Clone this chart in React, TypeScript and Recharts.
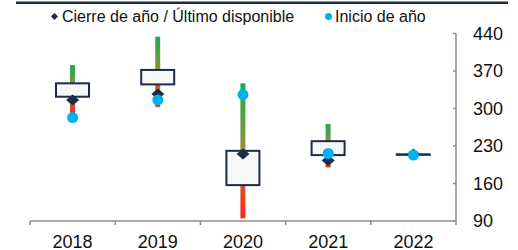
import React from "react";
import { ComposedChart, Bar, Line, XAxis, YAxis, Legend } from "recharts";

const categories = ["2018", "2019", "2020", "2021", "2022"];
const highs = [381, 434, 347, 271, 215];
const lows = [288, 303, 95, 190, 213];
const boxTops = [347, 372, 221, 239, 214.5];
const boxBottoms = [322, 345, 157, 213, 213.5];
const closes = [316, 327, 215, 203, 215];
const starts = [283, 316, 326, 216, 213];
const yTicks = [90, 160, 230, 300, 370, 440];

const NAVY = "#1c2a4d";
const BLUE = "#00b0f0";
const AXIS = "#8c8c8c";
const FONT = "'Liberation Sans', Arial, sans-serif";

const data = categories.map((c, i) => ({
  cat: c,
  pos: i + 0.5,
  whisker: [lows[i], highs[i]],
  box: [boxBottoms[i], boxTops[i]],
  close: closes[i],
  start: starts[i],
}));

const xTicks = Array.from({ length: categories.length * 2 + 1 }, (_, k) => k / 2);

const XTick = (props: any) => {
  const { x, y, payload } = props;
  const v = payload.value;
  if (Number.isInteger(v)) {
    return <line x1={x} x2={x} y1={y} y2={y + 4} stroke={AXIS} strokeWidth={1.5} />;
  }
  const label = categories[Math.floor(v)];
  return (
    <text x={x} y={y} dy={26.5} textAnchor="middle" fontSize={18} fill="#111" fontFamily={FONT}>
      {label}
    </text>
  );
};

const YTick = (props: any) => {
  const { x, y, payload } = props;
  return (
    <g>
      <line x1={x - 3} x2={x} y1={y} y2={y} stroke={AXIS} strokeWidth={1.5} />
      <text x={x + 17} y={y} dy="0.36em" textAnchor="start" fontSize={18} fill="#111" fontFamily={FONT}>
        {payload.value}
      </text>
    </g>
  );
};

const WhiskerShape = (props: any) => {
  const { x, y, width, height } = props;
  if (height == null) return null;
  return <rect x={x} y={y} width={width} height={Math.max(height, 0)} fill="url(#whiskerGrad)" />;
};

const BoxShape = (props: any) => {
  const { x, y, width, height } = props;
  return (
    <rect
      x={x + 1}
      y={y}
      width={width - 2}
      height={Math.max(height, 0.5)}
      fill="#f7f7f7"
      stroke={NAVY}
      strokeWidth={2}
    />
  );
};

const DiamondDot = (props: any) => {
  const { cx, cy, index } = props;
  return (
    <polygon
      key={`d-${index}`}
      points={`${cx},${cy - 5.5} ${cx + 6.5},${cy} ${cx},${cy + 5.5} ${cx - 6.5},${cy}`}
      fill={NAVY}
    />
  );
};

const CircleDot = (props: any) => {
  const { cx, cy, index } = props;
  return <circle key={`c-${index}`} cx={cx} cy={cy} r={5.5} fill={BLUE} />;
};

const LegendContent = () => (
  <svg width={518} height={30} style={{ display: "block" }}>
    <line x1={16} x2={508} y1={2.75} y2={2.75} stroke={NAVY} strokeWidth={2.5} />
    <polygon points="54.5,13 58,16.5 54.5,20 51,16.5" fill={NAVY} />
    <text x={62} y={22} fontSize={16} fill="#111" fontFamily={FONT}>
      Cierre de año / Último disponible
    </text>
    <circle cx={328.5} cy={16.5} r={3.5} fill={BLUE} />
    <text x={335} y={22} fontSize={16} fill="#111" fontFamily={FONT}>
      Inicio de año
    </text>
  </svg>
);

export default function App() {
  return (
    <div style={{ position: "absolute", left: 0, top: 0 }}>
      <ComposedChart
        width={518}
        height={250}
        data={data}
        margin={{ top: 3.5, left: 30, right: 0, bottom: 0 }}
      >
        <defs>
          <linearGradient id="whiskerGrad" x1="0" y1="0" x2="0" y2="1">
            <stop offset="0%" stopColor="#12b04c" />
            <stop offset="50%" stopColor="#9c8f3a" />
            <stop offset="100%" stopColor="#ff2418" />
          </linearGradient>
        </defs>
        <Legend
          verticalAlign="top"
          align="left"
          wrapperStyle={{ top: 0, left: 0, width: 518, margin: 0, padding: 0 }}
          content={LegendContent}
        />
        <XAxis
          xAxisId="a"
          type="number"
          dataKey="pos"
          domain={[0, categories.length]}
          ticks={xTicks}
          interval={0}
          tick={<XTick />}
          tickLine={false}
          tickSize={0}
          tickMargin={0}
          axisLine={{ stroke: AXIS, strokeWidth: 1.5 }}
          height={29}
          allowDecimals
        />
        <XAxis
          xAxisId="b"
          type="number"
          dataKey="pos"
          domain={[0, categories.length]}
          hide
        />
        <YAxis
          orientation="right"
          domain={[90, 440]}
          ticks={yTicks}
          interval={0}
          tick={<YTick />}
          tickLine={false}
          tickSize={0}
          tickMargin={0}
          axisLine={{ stroke: AXIS, strokeWidth: 1.5 }}
          width={62}
          allowDataOverflow
        />
        <Bar
          xAxisId="a"
          dataKey="whisker"
          barSize={5}
          shape={<WhiskerShape />}
          isAnimationActive={false}
          legendType="none"
        />
        <Bar
          xAxisId="b"
          dataKey="box"
          barSize={35}
          shape={<BoxShape />}
          isAnimationActive={false}
          legendType="none"
        />
        <Line
          xAxisId="a"
          dataKey="close"
          stroke="none"
          dot={DiamondDot}
          activeDot={false}
          isAnimationActive={false}
          legendType="none"
        />
        <Line
          xAxisId="a"
          dataKey="start"
          stroke="none"
          dot={CircleDot}
          activeDot={false}
          isAnimationActive={false}
          legendType="none"
        />
      </ComposedChart>
    </div>
  );
}
